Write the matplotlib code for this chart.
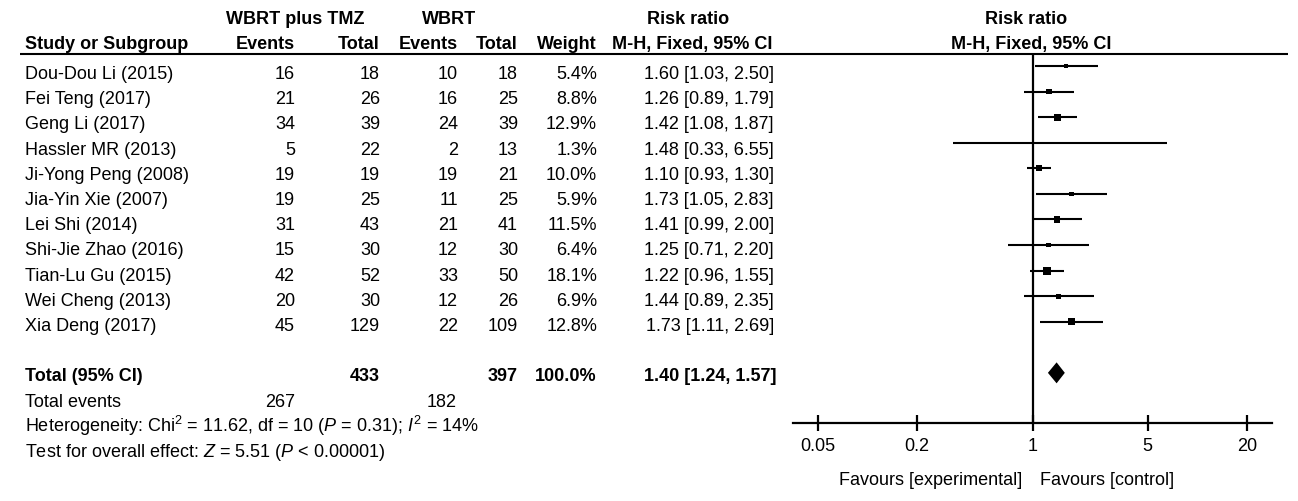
import matplotlib
matplotlib.use("Agg")
import matplotlib.pyplot as plt
import numpy as np

plt.rcParams['font.family'] = ['Liberation Sans', 'DejaVu Sans']
plt.rcParams['mathtext.fontset'] = 'custom'
plt.rcParams['mathtext.rm'] = 'Liberation Sans'
plt.rcParams['mathtext.it'] = 'Liberation Sans:italic'
plt.rcParams['mathtext.bf'] = 'Liberation Sans:bold'

# ---------------- data ----------------
studies = ["Dou-Dou Li (2015)", "Fei Teng (2017)", "Geng Li (2017)", "Hassler MR (2013)",
           "Ji-Yong Peng (2008)", "Jia-Yin Xie (2007)", "Lei Shi (2014)", "Shi-Jie Zhao (2016)",
           "Tian-Lu Gu (2015)", "Wei Cheng (2013)", "Xia Deng (2017)"]
events_exp = [16, 21, 34, 5, 19, 19, 31, 15, 42, 20, 45]
total_exp = [18, 26, 39, 22, 19, 25, 43, 30, 52, 30, 129]
events_ctl = [10, 16, 24, 2, 19, 11, 21, 12, 33, 12, 22]
total_ctl = [18, 25, 39, 13, 21, 25, 41, 30, 50, 26, 109]
weight = [5.4, 8.8, 12.9, 1.3, 10.0, 5.9, 11.5, 6.4, 18.1, 6.9, 12.8]
rr = [1.60, 1.26, 1.42, 1.48, 1.10, 1.73, 1.41, 1.25, 1.22, 1.44, 1.73]
ci_lo = [1.03, 0.89, 1.08, 0.33, 0.93, 1.05, 0.99, 0.71, 0.96, 0.89, 1.11]
ci_hi = [2.50, 1.79, 1.87, 6.55, 1.30, 2.83, 2.00, 2.20, 1.55, 2.35, 2.69]
pooled = (1.40, 1.24, 1.57)
het_text = r"Heterogeneity: Chi$^2$ = 11.62, df = 10 ($\mathit{P}$ = 0.31); $\mathit{I}^2$ = 14%"
test_text = r"Test for overall effect: $\mathit{Z}$ = 5.51 ($\mathit{P}$ < 0.00001)"
xticks = [0.05, 0.2, 1, 5, 20]
xticklabels = ["0.05", "0.2", "1", "5", "20"]

# ---------------- figure ----------------
W, H = 1298, 501
fig = plt.figure(figsize=(W / 100, H / 100), dpi=100)
ax = fig.add_axes([0, 0, 1, 1])
ax.set_xlim(0, W)
ax.set_ylim(H, 0)
ax.axis('off')

FS = 13
def base(i):
    return 79 + 25.2 * i

# column right edges
c_ev1, c_tot1, c_ev2, c_tot2, c_w, c_ci = 295, 380, 458, 518, 597, 774
xl = 25

# headers
ax.text(295, 24, "WBRT plus TMZ", ha='center', va='baseline', fontsize=FS, fontweight='bold')
ax.text(449, 24, "WBRT", ha='center', va='baseline', fontsize=FS, fontweight='bold')
ax.text(688, 24, "Risk ratio", ha='center', va='baseline', fontsize=FS, fontweight='bold')
ax.text(1026, 24, "Risk ratio", ha='center', va='baseline', fontsize=FS, fontweight='bold')
hy = 49
ax.text(xl, hy, "Study or Subgroup", ha='left', va='baseline', fontsize=FS, fontweight='bold')
for x, s in [(c_ev1, "Events"), (c_tot1, "Total"), (c_ev2, "Events"), (c_tot2, "Total"),
             (c_w, "Weight"), (c_ci - 2, "M-H, Fixed, 95% CI")]:
    ax.text(x, hy, s, ha='right', va='baseline', fontsize=FS, fontweight='bold')
ax.text(1031, hy, "M-H, Fixed, 95% CI", ha='center', va='baseline', fontsize=FS, fontweight='bold')
ax.plot([20, 1288], [53.5, 53.5], color='black', lw=1.5, solid_capstyle='butt')

# study rows
for i, s in enumerate(studies):
    y = base(i)
    ax.text(xl, y, s, ha='left', va='baseline', fontsize=FS)
    ax.text(c_ev1, y, str(events_exp[i]), ha='right', va='baseline', fontsize=FS)
    ax.text(c_tot1, y, str(total_exp[i]), ha='right', va='baseline', fontsize=FS)
    ax.text(c_ev2, y, str(events_ctl[i]), ha='right', va='baseline', fontsize=FS)
    ax.text(c_tot2, y, str(total_ctl[i]), ha='right', va='baseline', fontsize=FS)
    ax.text(c_w, y, f"{weight[i]:.1f}%", ha='right', va='baseline', fontsize=FS)
    ax.text(c_ci, y, f"{rr[i]:.2f} [{ci_lo[i]:.2f}, {ci_hi[i]:.2f}]", ha='right', va='baseline', fontsize=FS)

# totals
y = base(12)
ax.text(xl, y, "Total (95% CI)", ha='left', va='baseline', fontsize=FS, fontweight='bold')
ax.text(c_tot1, y, str(sum(total_exp)), ha='right', va='baseline', fontsize=FS, fontweight='bold')
ax.text(c_tot2, y, str(sum(total_ctl)), ha='right', va='baseline', fontsize=FS, fontweight='bold')
ax.text(c_w, y, f"{sum(weight):.1f}%", ha='right', va='baseline', fontsize=FS, fontweight='bold')
ax.text(c_ci + 3, y, f"{pooled[0]:.2f} [{pooled[1]:.2f}, {pooled[2]:.2f}]", ha='right', va='baseline',
        fontsize=FS, fontweight='bold')
y = base(13)
ax.text(xl, y, "Total events", ha='left', va='baseline', fontsize=FS)
ax.text(c_ev1, y, str(sum(events_exp)), ha='right', va='baseline', fontsize=FS)
ax.text(c_ev2 - 1, y, str(sum(events_ctl)), ha='right', va='baseline', fontsize=FS)
ax.text(xl, base(14), het_text, ha='left', va='baseline', fontsize=FS)
ax.text(xl, base(15), test_text, ha='left', va='baseline', fontsize=FS)

# favours labels
ax.text(1022, 485, "Favours [experimental]", ha='right', va='baseline', fontsize=FS)
ax.text(1040, 485, "Favours [control]", ha='left', va='baseline', fontsize=FS)

# ---------------- forest ----------------
fx0, fx1 = 793, 1272
fy_top, fy_bot = 54, 423.3
axf = fig.add_axes([fx0 / W, (H - fy_bot) / H, (fx1 - fx0) / W, (fy_bot - fy_top) / H])
axf.set_xscale('log')
axf.set_xlim(1 / 28.3, 28.3)
r0, rstep = 66, 25.57
axf.set_ylim((fy_bot - r0) / rstep, (fy_top - r0) / rstep)
axf.patch.set_alpha(0)
for sp in ['top', 'left', 'right']:
    axf.spines[sp].set_visible(False)
axf.spines['bottom'].set_linewidth(1.6)
axf.set_yticks([])
axf.set_xticks(xticks)
axf.set_xticklabels(xticklabels, fontsize=FS)
axf.xaxis.set_minor_locator(matplotlib.ticker.NullLocator())
axf.tick_params(axis='x', direction='inout', length=11, width=1.6, pad=5)

axf.axvline(1, color='black', lw=1.6)
rows = np.arange(len(studies))
axf.hlines(rows, ci_lo, ci_hi, color='black', lw=1.5)
side_px = 1.88 * np.sqrt(np.array(weight))
axf.scatter(rr, rows, marker='s', s=(side_px * 0.72) ** 2, color='black', linewidths=0, zorder=3)
ty = 12
dh = 0.41
axf.fill([pooled[1], pooled[0], pooled[2], pooled[0]], [ty, ty - dh, ty, ty + dh], color='black', lw=0)

fig.savefig("out.png", dpi=100)
